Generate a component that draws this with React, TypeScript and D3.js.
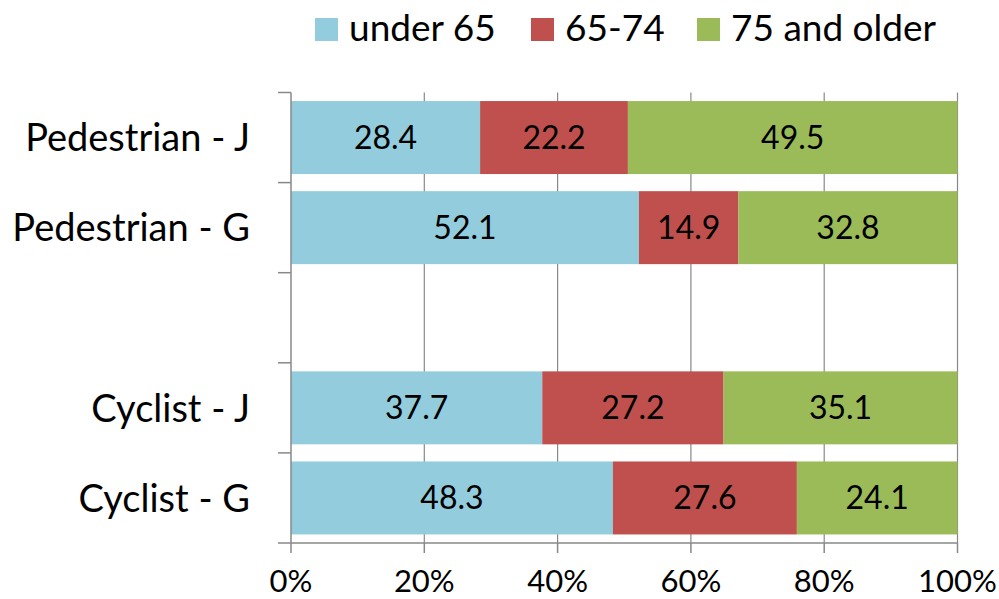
import React from "react";
import * as d3 from "d3";

const categories = ["Pedestrian - J", "Pedestrian - G", "", "Cyclist - J", "Cyclist - G"];
const seriesNames = ["under 65", "65-74", "75 and older"];
const under65 = [28.4, 52.1, null, 37.7, 48.3];
const age65to74 = [22.2, 14.9, null, 27.2, 27.6];
const age75plus = [49.5, 32.8, null, 35.1, 24.1];
const xTicks = [0, 20, 40, 60, 80, 100];
const colors = ["#93CDDD", "#C0504D", "#9BBB59"];

const W = 999;
const H = 599;
const FONT = "Lato, 'Open Sans', sans-serif";
const plot = { left: 291, right: 957.5, top: 92.5, bottom: 543 };
const legendX = [315, 531, 697];

export default function App() {
  const x = d3.scaleLinear().domain([0, 100]).range([plot.left, plot.right]);
  const yKeys = categories.map((_, i) => String(i));
  const y = d3.scaleBand().domain(yKeys).range([plot.top, plot.bottom]).padding(0);
  const bar = d3.scaleBand().domain(yKeys).range([plot.top, plot.bottom]).paddingInner(0.19).paddingOuter(0.095);
  const series = [under65, age65to74, age75plus];
  const bandEdges = yKeys.map((k) => y(k) as number).concat([plot.bottom]);

  return (
    <svg width={W} height={H} style={{ position: "absolute", left: 0, top: 0, background: "#fff" }} fontFamily={FONT}>
      <rect x={0} y={0} width={W} height={H} fill="#fff" />
      {/* gridlines */}
      {xTicks.slice(1).map((t) => (
        <line key={"g" + t} x1={x(t)} x2={x(t)} y1={plot.top} y2={plot.bottom} stroke="#888" strokeWidth={1.2} />
      ))}
      {/* bars (100% stacked) */}
      {yKeys.map((k, i) => {
        const total = d3.sum(series, (s) => s[i] ?? 0);
        if (!total) return null;
        let acc = 0;
        return series.map((s, si) => {
          const v = s[i];
          if (v == null) return null;
          const x0 = x((acc / total) * 100);
          acc += v;
          const x1 = x((acc / total) * 100);
          const by = bar(k) as number;
          const bh = bar.bandwidth();
          return (
            <g key={k + "-" + si}>
              <rect x={x0} y={by} width={Math.max(0, x1 - x0)} height={bh} fill={colors[si]} />
              <text x={(x0 + x1) / 2} y={by + bh / 2} dy="0.35em" textAnchor="middle" fontSize={32} fill="#000">
                {v.toFixed(1)}
              </text>
            </g>
          );
        });
      })}
      {/* y axis */}
      <line x1={plot.left} x2={plot.left} y1={plot.top} y2={plot.bottom} stroke="#888" strokeWidth={1.5} />
      {bandEdges.map((e, i) => (
        <line key={"yt" + i} x1={plot.left - 13} x2={plot.left} y1={e} y2={e} stroke="#888" strokeWidth={1.5} />
      ))}
      {categories.map((c, i) => (
        <text key={"yl" + i} x={250} y={(y(String(i)) as number) + y.bandwidth() / 2} dy="0.36em" textAnchor="end" fontSize={38} fill="#000">
          {c}
        </text>
      ))}
      {/* x axis */}
      <line x1={plot.left} x2={plot.right} y1={plot.bottom} y2={plot.bottom} stroke="#888" strokeWidth={1.5} />
      {xTicks.map((t) => (
        <g key={"xt" + t}>
          <line x1={x(t)} x2={x(t)} y1={plot.bottom} y2={plot.bottom + 10} stroke="#888" strokeWidth={1.5} />
          <text x={x(t)} y={592} textAnchor="middle" fontSize={31} fill="#000">
            {t + "%"}
          </text>
        </g>
      ))}
      {/* legend */}
      {seriesNames.map((n, i) => (
        <g key={"lg" + i}>
          <rect x={legendX[i]} y={18} width={23} height={23} fill={colors[i]} />
          <text x={legendX[i] + 34} y={40.5} fontSize={37} fill="#000">
            {n}
          </text>
        </g>
      ))}
    </svg>
  );
}
